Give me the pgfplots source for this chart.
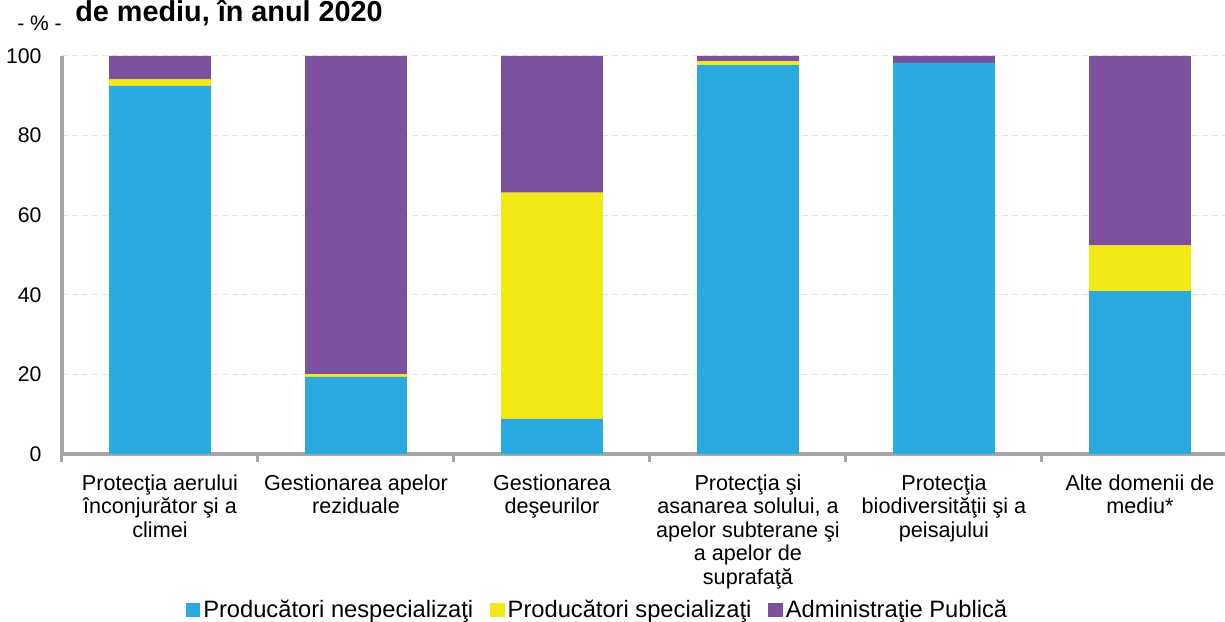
\documentclass[border=0pt]{standalone}
\usepackage{pgfplots}
\pgfplotsset{compat=1.18}
\usepackage{fontspec}
\setmainfont{Liberation Sans}
\definecolor{cblue}{RGB}{41,171,226}
\definecolor{cyellow}{RGB}{242,233,22}
\definecolor{cpurple}{RGB}{123,81,157}
\definecolor{axgray}{RGB}{166,166,168}
\begin{document}
\begin{tikzpicture}
\useasboundingbox (0,0) rectangle (612.5pt,310.5pt);
\node[anchor=base west, font=\fontsize{14.4}{16}\selectfont\bfseries, inner sep=0pt] at (37.5pt,299.5pt) {de mediu, în anul 2020};
\node[anchor=base west, font=\fontsize{10.5}{12}\selectfont, inner sep=0pt] at (8.5pt,295pt) {- \% -};
\begin{axis}[
  at={(31pt,83.5pt)}, anchor=south west,
  scale only axis, width=581.5pt, height=199pt,
  ybar stacked, bar width=0.52,
  xmin=-0.5, xmax=5.434, ymin=0, ymax=100,
  axis x line*=bottom, axis y line*=left,
  axis line style={axgray, line width=2pt, -},
  xtick={0,1,2,3,4,5},
  xticklabels={{Protecţia aerului\\înconjurător şi a\\climei},
    {Gestionarea apelor\\reziduale},
    {Gestionarea\\deşeurilor},
    {Protecţia şi\\asanarea solului, a\\apelor subterane şi\\a apelor de\\suprafaţă},
    {Protecţia\\biodiversităţii şi a\\peisajului},
    {Alte domenii de\\mediu*}},
  xticklabel style={align=center, font=\fontsize{10.8}{11.75}\selectfont, yshift=-2.5pt},
  major x tick style={draw=none},
  minor xtick={-0.5,0.5,1.5,2.5,3.5,4.5,5.5},
  minor x tick style={axgray, line width=1.5pt},
  minor tick length=4pt, tick align=outside,
  ytick={0,20,40,60,80,100},
  major y tick style={draw=none},
  yticklabel style={font=\fontsize{10.6}{12}\selectfont, xshift=-2.5pt},
  /pgf/number format/assume math mode=true,
  ymajorgrids, major grid style={densely dashed, gray!20, line width=0.5pt},
  legend columns=3,
  legend style={at={(0.46,-0.392)}, anchor=center, draw=none,
    font=\fontsize{11.85}{14}\selectfont,
    nodes={inner sep=0.5pt},
    /tikz/every odd column/.append style={column sep=1pt},
    /tikz/every even column/.append style={column sep=8pt}},
  legend image code/.code={\fill[#1] (0pt,-3.6pt) rectangle (7.2pt,3.6pt);},
  clip=true,
]
\addplot[fill=cblue, draw=none] coordinates {(0,92.5) (1,19.4) (2,8.8) (3,97.7) (4,98.3) (5,40.9)};
\addplot[fill=cyellow, draw=none] coordinates {(0,1.6) (1,0.7) (2,56.9) (3,1.0) (4,0) (5,11.5)};
\addplot[fill=cpurple, draw=none] coordinates {(0,5.9) (1,79.9) (2,34.3) (3,1.3) (4,1.7) (5,47.6)};
\legend{Producători nespecializaţi, Producători specializaţi, Administraţie Publică}
\end{axis}
\end{tikzpicture}
\end{document}
